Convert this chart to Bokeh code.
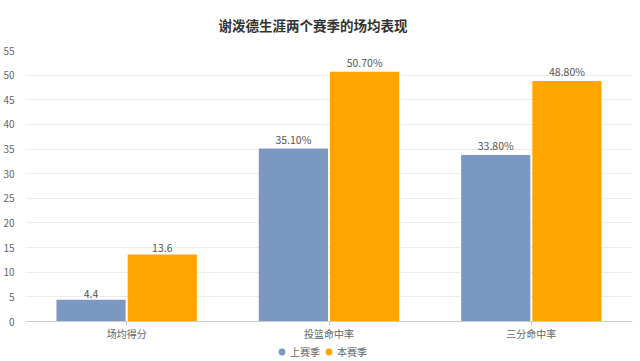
from bokeh.plotting import figure
from bokeh.layouts import column
from bokeh.models import (ColumnDataSource, FactorRange, Legend, LegendItem, Range1d,
                          SingleIntervalTicker, LabelSet)
from bokeh.core.properties import value
from bokeh.transform import dodge
from bokeh.embed import file_html
from bokeh.resources import INLINE

categories = ["场均得分", "投篮命中率", "三分命中率"]
last_season = [4.4, 35.1, 33.8]
this_season = [13.6, 50.7, 48.8]
last_labels = ["4.4", "35.10%", "33.80%"]
this_labels = ["13.6", "50.70%", "48.80%"]
series_names = ["上赛季", "本赛季"]
colors = ["#7b98c2", "#ffa500"]

FONT = "Noto Sans CJK SC"

src = ColumnDataSource(dict(cat=categories, a=last_season, b=this_season,
                            la=last_labels, lb=this_labels))

p = figure(x_range=FactorRange(*categories, range_padding=0), y_range=Range1d(0, 55),
           width=640, height=343, output_backend="svg", toolbar_location=None,
           min_border_left=25, min_border_right=8, min_border_top=48, min_border_bottom=20)

p.title.text = "谢泼德生涯两个赛季的场均表现"
p.title.align = "left"
p.title.offset = 193
p.title.vertical_align = "top"
p.title.text_font = FONT
p.title.text_font_size = "13.5px"
p.title.text_font_style = "bold"
p.title.text_color = "#333333"
p.title.standoff = 28

w = 0.342
off = 0.176
p.vbar(x=dodge("cat", -off, range=p.x_range), top="a", width=w, source=src,
       fill_color=colors[0], line_color=None)
p.vbar(x=dodge("cat", off, range=p.x_range), top="b", width=w, source=src,
       fill_color=colors[1], line_color=None)

for col, lab, o in [("a", "la", -off), ("b", "lb", off)]:
    ls = LabelSet(x=dodge("cat", o, range=p.x_range), y=col, text=lab, source=src,
                  text_align="center", text_baseline="bottom", y_offset=2,
                  text_font=value(FONT), text_font_size=value("10.5px"), text_color="#555555")
    p.add_layout(ls)

p.outline_line_color = None
p.xgrid.grid_line_color = None
p.ygrid.grid_line_color = "#ececec"
p.yaxis.ticker = SingleIntervalTicker(interval=5)
p.yaxis.axis_line_color = None
p.yaxis.major_tick_line_color = None
p.yaxis.minor_tick_line_color = None
p.yaxis.major_label_text_font = FONT
p.yaxis.major_label_text_font_size = "10px"
p.yaxis.major_label_text_color = "#666666"
p.yaxis.major_label_standoff = 5

p.xaxis.axis_line_color = "#cccccc"
p.xaxis.major_tick_line_color = "#cccccc"
p.xaxis.major_tick_out = 4
p.xaxis.major_tick_in = 0
p.xaxis.major_label_text_font = FONT
p.xaxis.major_label_text_font_size = "10px"
p.xaxis.major_label_text_color = "#666666"
p.xaxis.major_label_standoff = 0

# legend strip below the chart
lp = figure(width=640, height=18, output_backend="svg", toolbar_location=None,
            x_axis_location=None, y_axis_location=None,
            x_range=Range1d(0, 1), y_range=Range1d(0, 1),
            min_border_left=0, min_border_right=0, min_border_top=0, min_border_bottom=0)
lp.outline_line_color = None
lp.xgrid.grid_line_color = None
lp.ygrid.grid_line_color = None
dsrc = ColumnDataSource(dict(x=[-10], y=[-10]))
d1 = lp.scatter(x="x", y="y", source=dsrc, marker="circle", size=8,
                fill_color=colors[0], line_color=None)
d2 = lp.scatter(x="x", y="y", source=dsrc, marker="circle", size=8,
                fill_color=colors[1], line_color=None)
legend = Legend(items=[LegendItem(label=series_names[0], renderers=[d1]),
                       LegendItem(label=series_names[1], renderers=[d2])],
                orientation="horizontal", location=(248, 1),
                label_text_font=FONT, label_text_font_size="10px", label_text_color="#666666",
                border_line_color=None, background_fill_alpha=0,
                glyph_width=17, glyph_height=17, label_standoff=0, spacing=0,
                padding=0, margin=0, label_height=12, label_width=20)
lp.add_layout(legend, "center")

layout = column(p, lp, spacing=0)
open("out.html", "w").write(file_html(layout, INLINE))
